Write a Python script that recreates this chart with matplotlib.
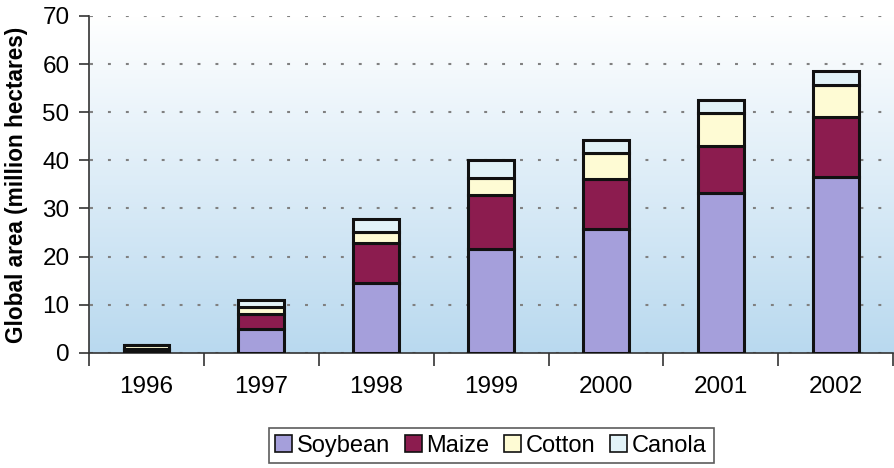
import matplotlib.pyplot as plt
import numpy as np
from matplotlib.colors import LinearSegmentedColormap

plt.rcParams['font.family'] = ['Liberation Sans', 'DejaVu Sans']

years = ['1996', '1997', '1998', '1999', '2000', '2001', '2002']
soybean = [0.5, 5.0, 14.5, 21.5, 25.7, 33.2, 36.5]
maize = [0.3, 3.1, 8.3, 11.2, 10.4, 9.8, 12.4]
cotton = [0.8, 1.4, 2.4, 3.7, 5.4, 6.9, 6.8]
canola = [0.1, 1.5, 2.6, 3.7, 2.7, 2.7, 2.9]

crops = ['Soybean', 'Maize', 'Cotton', 'Canola']
colors = ['#a59fdb', '#8c1c4f', '#fefbd4', '#e2f3f8']

fig = plt.figure(figsize=(8.95, 4.68), dpi=100)
ax = fig.add_axes([0.0995, 0.246, 0.8985, 0.72])

# soft blue gradient behind the bars
grad = np.linspace(0, 1, 256).reshape(-1, 1)
cmap = LinearSegmentedColormap.from_list('bg', ['#b9d9ef', '#ffffff'])
ax.imshow(grad, extent=[0, 1, 0, 1], transform=ax.transAxes, origin='lower',
          cmap=cmap, aspect='auto', zorder=0)

x = np.arange(len(years))
bottom = np.zeros(len(years))
for name, vals, col in zip(crops, [soybean, maize, cotton, canola], colors):
    ax.bar(x, vals, 0.4, bottom=bottom, color=col, edgecolor='#111111',
           linewidth=2.2, label=name, zorder=3)
    bottom += np.array(vals)

ax.set_xlim(-0.5, 6.5)
ax.set_ylim(0, 70)
ax.set_yticks(range(0, 71, 10))
ax.yaxis.grid(True, color='#808080', linestyle=(8.1, (1.4, 7.2)), linewidth=1.5, zorder=1)
ax.set_axisbelow(True)

ax.set_xticks(x)
ax.set_xticklabels(years)
ax.set_xticks(np.arange(-0.5, 7, 1), minor=True)
ax.tick_params(axis='x', which='major', length=0, pad=17, labelsize=17.5)
ax.tick_params(axis='x', which='minor', length=9, width=1.2, direction='out', color='#333333')
ax.tick_params(axis='y', length=7, width=1.2, labelsize=17.5, pad=7, color='#333333')

for s in ['top', 'right']:
    ax.spines[s].set_visible(False)
for s in ['left', 'bottom']:
    ax.spines[s].set_color('#333333')
    ax.spines[s].set_linewidth(1.2)

ax.set_ylabel('Global area (million hectares)', fontsize=16.3, fontweight='bold')
ax.yaxis.label.set_va('center')
ax.yaxis.set_label_coords(-0.0896, 0.5)

leg = ax.legend(loc='center', bbox_to_anchor=(0.5, -0.276), ncol=4, frameon=True,
                fancybox=False, edgecolor='#333333', fontsize=17, handlelength=0.72,
                handleheight=0.72, handletextpad=0.2, columnspacing=0.62,
                borderpad=0.28, borderaxespad=0)
leg.get_frame().set_linewidth(1.2)
for h in leg.legend_handles:
    h.set_linewidth(1.2)

fig.savefig('out.png', dpi=100)
